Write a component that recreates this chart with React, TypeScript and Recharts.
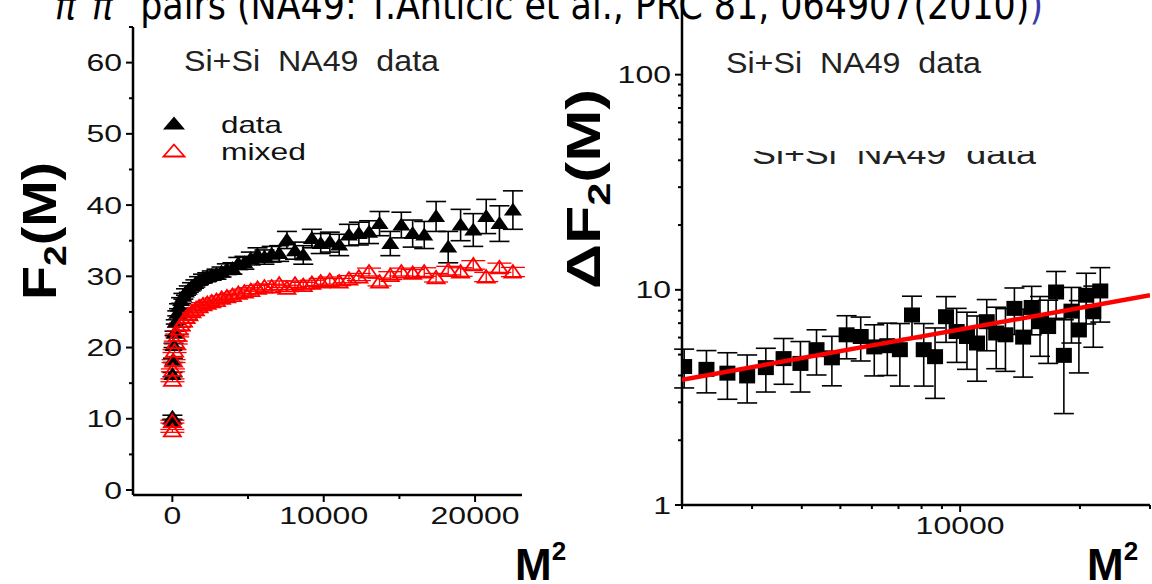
import { ScatterChart, Scatter, XAxis, YAxis, ErrorBar } from "recharts"

const SANS = "'Liberation Sans', Arial, Helvetica, sans-serif"

// left panel: M^2 bins (M = 1, 2, then every 3rd bin up to 150)
const leftM2 = [
  1, 4, 9, 36, 81, 144, 225, 324, 441, 576, 729, 900, 1089, 1296, 1521, 1764, 2025, 2304, 2601, 2916,
  3249, 3600, 3969, 4356, 4761, 5184, 5625, 6084, 6561, 7056, 7569, 8100, 8649, 9216, 9801, 10404,
  11025, 11664, 12321, 12996, 13689, 14400, 15129, 15876, 16641, 17424, 18225, 19044, 19881, 20736,
  21609, 22500,
]
const dataF2 = [
  9.6, 10.2,
  16.2, 18.2, 20.3, 22.0, 23.6, 24.8, 25.8, 26.6, 27.2, 27.8,
  28.2, 28.6, 29.0, 29.4, 29.7, 29.9, 30.1, 30.3, 30.6, 31.0,
  31.1, 31.8, 31.9, 32.5, 33.0, 32.7, 33.1, 33.2, 35.1, 33.6,
  33.0, 35.3, 34.6, 34.8, 34.4, 35.8, 36.0, 36.2, 37.4, 34.6,
  37.2, 36.0, 35.8, 38.4, 34.1, 37.2, 36.5, 38.4, 37.4, 39.3,
]
const dataErr = [
  0.3, 0.3,
  0.3, 0.3, 0.3, 0.3, 0.3, 0.35, 0.35, 0.4, 0.4, 0.45,
  0.45, 0.5, 0.5, 0.55, 0.6, 0.6, 0.65, 0.7, 0.7, 0.75,
  0.8, 0.85, 0.9, 0.9, 1.0, 1.0, 1.1, 1.1, 1.2, 1.2,
  1.3, 1.3, 1.4, 1.4, 1.5, 1.5, 1.6, 1.6, 1.7, 1.7,
  1.8, 1.9, 1.9, 2.1, 2.2, 2.2, 2.3, 2.4, 2.5, 2.7,
]
const mixedF2 = [
  8.3, 9.6,
  15.4, 16.8, 18.1, 19.5, 20.7, 21.7, 22.6, 23.2, 23.7, 24.2,
  24.6, 25.0, 25.3, 25.7, 26.0, 26.2, 26.4, 26.6, 26.9, 27.1,
  27.3, 27.6, 27.8, 28.0, 28.3, 28.5, 28.5, 28.9, 28.3, 28.9,
  28.7, 29.0, 29.2, 29.4, 29.2, 29.6, 29.9, 30.6, 29.2, 30.1,
  30.6, 30.4, 30.6, 29.8, 30.8, 30.6, 31.6, 29.9, 31.2, 30.6,
]
const mixedErr = [
  0.2, 0.2,
  0.2, 0.2, 0.2, 0.2, 0.2, 0.2, 0.25, 0.25, 0.25, 0.25,
  0.3, 0.3, 0.3, 0.3, 0.3, 0.3, 0.3, 0.35, 0.35, 0.35,
  0.35, 0.35, 0.4, 0.4, 0.4, 0.4, 0.4, 0.45, 0.45, 0.45,
  0.45, 0.45, 0.5, 0.5, 0.5, 0.5, 0.5, 0.55, 0.55, 0.55,
  0.55, 0.55, 0.6, 0.6, 0.6, 0.6, 0.6, 0.65, 0.65, 0.65,
]

// right panel: delta F2 = data - mixed, log-log, M = 45..150
const rightM2 = [
  2025, 2304, 2601, 2916, 3249, 3600, 3969, 4356, 4761, 5184, 5625, 6084, 6561, 7056, 7569, 8100,
  8649, 9216, 9801, 10404, 11025, 11664, 12321, 12996, 13689, 14400, 15129, 15876, 16641, 17424,
  18225, 19044, 19881, 20736, 21609, 22500,
]
const deltaF2 = [
  4.40, 4.27, 4.10, 3.98, 4.35, 4.79, 4.55, 5.27, 4.83, 6.18, 6.07, 5.43, 5.50, 5.27, 7.64, 5.27,
  4.89, 7.50, 6.40, 6.07, 5.66, 7.11, 6.30, 6.18, 8.20, 6.03, 8.28, 7.11, 6.75, 9.77, 4.96, 7.96,
  6.51, 9.44, 7.91, 9.88,
]
const deltaErr = [
  0.9, 0.95, 1.0, 1.0, 1.0, 1.15, 1.2, 1.25, 1.25, 1.4, 1.4, 1.45, 1.5, 1.7, 1.7, 1.7,
  1.76, 1.8, 1.8, 1.8, 1.9, 1.9, 2.0, 2.0, 2.0, 2.1, 2.1, 2.2, 2.2, 2.4, 2.3, 2.3,
  2.4, 2.5, 2.5, 2.8,
]
// power law fit, end points
const fitM2 = [2000, 30000]
const fitF2 = [3.82, 9.44]

// ticks (majors get a label)
const leftXTicks = [0, 5000, 10000, 15000, 20000]
const leftXMajor = [0, 10000, 20000]
const leftYTicks = [0, 5, 10, 15, 20, 25, 30, 35, 40, 45, 50, 55, 60, 65]
const leftYMajor = [0, 10, 20, 30, 40, 50, 60]
const rightXTicks = [2000, 3000, 4000, 5000, 6000, 7000, 8000, 9000, 10000, 20000, 30000]
const rightXMajor = [10000]
const rightYTicks = [1, 2, 3, 4, 5, 6, 7, 8, 9, 10, 20, 30, 40, 50, 60, 70, 80, 90, 100]
const rightYMajor = [1, 10, 100]

const panelTitle = "Si+Si\u00a0\u00a0NA49\u00a0\u00a0data"

const dataPts = leftM2.map((m2, i) => ({ m2, f2: dataF2[i], err: dataErr[i] }))
const mixedPts = leftM2.map((m2, i) => ({ m2, f2: mixedF2[i], err: mixedErr[i] }))
const deltaPts = rightM2.map((m2, i) => ({ m2, f2: deltaF2[i], err: deltaErr[i] }))
const fitPts = fitM2.map((m2, i) => ({ m2, f2: fitF2[i] }))

const DIGIT_W = 17.8 // the figure is stretched sideways, so labels are squeezed to this width

const YTick = (p: any) => {
  const { x, y, payload, majors } = p
  const major = majors.includes(payload.value)
  const s = String(payload.value)
  const w = s.length * DIGIT_W
  return (
    <g>
      <line x1={x} x2={x - (major ? 7 : 4)} y1={y} y2={y} stroke="#000" strokeWidth={2} />
      {major && (
        <text x={x - 11 - w} y={y + 8.5} fontSize={24} fontFamily={SANS} fill="#111"
          textLength={w} lengthAdjust="spacingAndGlyphs">{s}</text>
      )}
    </g>
  )
}

const XTick = (p: any) => {
  const { x, y, payload, majors } = p
  const major = majors.includes(payload.value)
  const s = String(payload.value)
  const w = s.length * DIGIT_W
  return (
    <g>
      <line x1={x} x2={x} y1={y} y2={y + (major ? 7 : 4)} stroke="#000" strokeWidth={2} />
      {major && (
        <text x={x - w / 2} y={y + 29} fontSize={24} fontFamily={SANS} fill="#111"
          textLength={w} lengthAdjust="spacingAndGlyphs">{s}</text>
      )}
    </g>
  )
}

const FilledTri = (p: any) => (
  <polygon points={`${p.cx},${p.cy - 7.5} ${p.cx - 9},${p.cy + 5.5} ${p.cx + 9},${p.cy + 5.5}`} fill="#000" />
)
const OpenTri = (p: any) => (
  <polygon points={`${p.cx},${p.cy - 7} ${p.cx - 8.5},${p.cy + 5.5} ${p.cx + 8.5},${p.cy + 5.5}`}
    fill="none" stroke="#ff0000" strokeWidth={1.8} />
)
const Square = (p: any) => <rect x={p.cx - 8} y={p.cy - 7.5} width={16} height={15} fill="#000" />
const NoDot = () => <g />

const axisStyle = { stroke: "#000", strokeWidth: 2.5 }

export default function App() {
  return (
    <div style={{ position: "absolute", left: 0, top: 0, width: 1152, height: 584, overflow: "hidden", background: "#fff", fontFamily: SANS }}>
      {/* left: F2(M) for data and mixed events */}
      <div style={{ position: "absolute", left: 0, top: 0 }}>
        <ScatterChart width={560} height={584} margin={{ top: 27, right: 38, bottom: 29, left: 0 }}>
          <XAxis dataKey="m2" type="number" domain={[-2600, 23100]} allowDataOverflow ticks={leftXTicks} interval={0}
            tick={<XTick majors={leftXMajor} />} tickLine={false} tickSize={0} tickMargin={0} axisLine={axisStyle} height={60} />
          <YAxis dataKey="f2" type="number" domain={[-0.7, 65]} allowDataOverflow ticks={leftYTicks} interval={0}
            tick={<YTick majors={leftYMajor} />} tickLine={false} tickSize={0} tickMargin={0} axisLine={axisStyle} width={133} />
          <Scatter data={dataPts} shape={FilledTri} isAnimationActive={false}>
            <ErrorBar dataKey="err" direction="y" width={10} stroke="#000" strokeWidth={1.6} isAnimationActive={false} />
          </Scatter>
          <Scatter data={mixedPts} shape={OpenTri} isAnimationActive={false}>
            <ErrorBar dataKey="err" direction="y" width={12} stroke="#ff0000" strokeWidth={1.3} isAnimationActive={false} />
          </Scatter>
        </ScatterChart>
      </div>

      {/* right: delta F2 on log-log with the power law fit */}
      <div style={{ position: "absolute", left: 560, top: -40 }}>
        <ScatterChart width={600} height={640} margin={{ top: 12, right: 10, bottom: 35, left: 0 }}>
          <XAxis dataKey="m2" type="number" scale="log" domain={[2000, 30000]} allowDataOverflow ticks={rightXTicks} interval={0}
            tick={<XTick majors={rightXMajor} />} tickLine={false} tickSize={0} tickMargin={0} axisLine={axisStyle} height={60} />
          <YAxis dataKey="f2" type="number" scale="log" domain={[1, 300]} allowDataOverflow ticks={rightYTicks} interval={0}
            tick={<YTick majors={rightYMajor} />} tickLine={false} tickSize={0} tickMargin={0} axisLine={axisStyle} width={122} />
          <Scatter data={deltaPts} shape={Square} isAnimationActive={false}>
            <ErrorBar dataKey="err" direction="y" width={10} stroke="#000" strokeWidth={1.6} isAnimationActive={false} />
          </Scatter>
          <Scatter data={fitPts} shape={NoDot} line={{ stroke: "#ff0000", strokeWidth: 4.5 }} isAnimationActive={false} />
        </ScatterChart>
      </div>

      {/* texts around the plots */}
      <svg width={1152} height={584} style={{ position: "absolute", left: 0, top: 0, pointerEvents: "none" }}>
        <defs>
          <clipPath id="ghostClip">
            <rect x={700} y={151} width={400} height={20} />
          </clipPath>
        </defs>
        <text x={55} y={19} fontSize={40} fontFamily="'DejaVu Sans', sans-serif" fill="#000"
          textLength={988} lengthAdjust="spacingAndGlyphs">
          <tspan fontStyle="italic">π</tspan>
          <tspan dy={-24} fontSize={22}>+</tspan>
          <tspan dy={24} fontStyle="italic">π</tspan>
          <tspan dy={-24} fontSize={22}>−</tspan>
          <tspan dy={24}>{"\u00a0pairs (NA49: T.Anticic et al., PRC 81, 064907(2010)"}</tspan>
          <tspan fill="#3a3aa8">)</tspan>
        </text>

        <text x={184} y={71} fontSize={30} fontFamily={SANS} fill="#222" textLength={255} lengthAdjust="spacingAndGlyphs">{panelTitle}</text>
        <text x={726} y={73} fontSize={30} fontFamily={SANS} fill="#222" textLength={255} lengthAdjust="spacingAndGlyphs">{panelTitle}</text>
        <text x={752} y={164} fontSize={30} fontFamily={SANS} fill="#222" textLength={284} lengthAdjust="spacingAndGlyphs"
          clipPath="url(#ghostClip)">{panelTitle}</text>

        {/* legend */}
        <polygon points="174,116.5 163,129.5 185,129.5" fill="#000" />
        <text x={221} y={133} fontSize={24} fontFamily={SANS} fill="#111" textLength={61} lengthAdjust="spacingAndGlyphs">data</text>
        <polygon points="174,144.5 163.5,156.5 184.5,156.5" fill="#fff" stroke="#ff0000" strokeWidth={1.8} />
        <text x={221} y={160} fontSize={24} fontFamily={SANS} fill="#111" textLength={85} lengthAdjust="spacingAndGlyphs">mixed</text>

        {/* axis titles */}
        <text x={-300} y={56} transform="rotate(-90)" fontSize={48} fontWeight="bold" fontFamily={SANS} fill="#000"
          textLength={138} lengthAdjust="spacingAndGlyphs">
          F<tspan dy={10} fontSize={32}>2</tspan><tspan dy={-10}>(M)</tspan>
        </text>
        <text x={-289} y={600} transform="rotate(-90)" fontSize={48} fontWeight="bold" fontFamily={SANS} fill="#000"
          textLength={200} lengthAdjust="spacingAndGlyphs">
          ΔF<tspan dy={10} fontSize={32}>2</tspan><tspan dy={-10}>(M)</tspan>
        </text>
        <text x={515} y={580} fontSize={44} fontWeight="bold" fontFamily={SANS} fill="#000">
          M<tspan dy={-20} fontSize={26}>2</tspan>
        </text>
        <text x={1087} y={580} fontSize={44} fontWeight="bold" fontFamily={SANS} fill="#000">
          M<tspan dy={-20} fontSize={26}>2</tspan>
        </text>
      </svg>
    </div>
  )
}
